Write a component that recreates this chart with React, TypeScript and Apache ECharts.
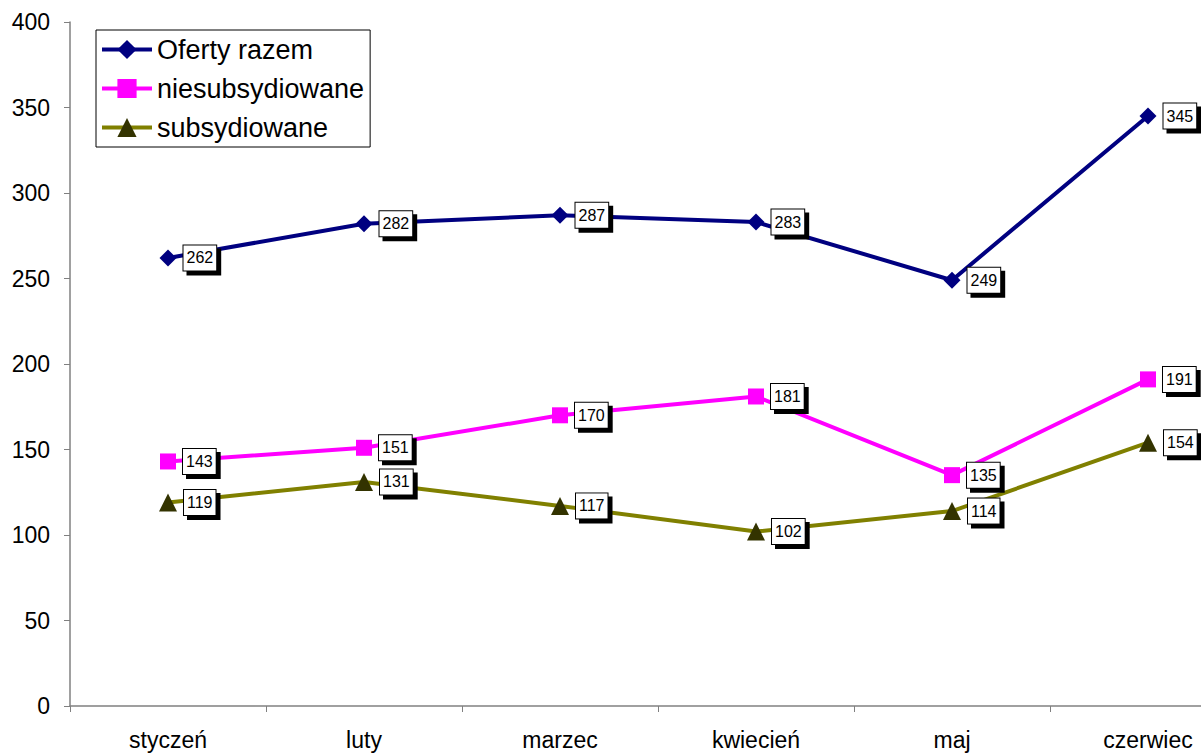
import React, { useEffect, useRef } from "react";
import * as echarts from "echarts";

const categories = ["styczeń", "luty", "marzec", "kwiecień", "maj", "czerwiec"];
const ofertyRazem = [262, 282, 287, 283, 249, 345];
const niesubsydiowane = [143, 151, 170, 181, 135, 191];
const subsydiowane = [119, 131, 117, 102, 114, 154];
const yTicks = { min: 0, max: 400, interval: 50 };

const labelStyle = {
  show: true,
  position: "right" as const,
  distance: 7,
  color: "#000",
  fontFamily: "Arial, Liberation Sans, sans-serif",
  fontSize: 16,
  backgroundColor: "#fff",
  borderColor: "#000",
  borderWidth: 1,
  padding: [5, 3, 4, 3],
  shadowColor: "#000",
  shadowOffsetX: 4,
  shadowOffsetY: 4,
  shadowBlur: 0,
};

export default function App() {
  const ref = useRef<HTMLDivElement>(null);
  useEffect(() => {
    const chart = echarts.init(ref.current!, undefined, { renderer: "svg" });
    const font = "Arial, Liberation Sans, sans-serif";
    chart.setOption({
      animation: false,
      backgroundColor: "#fff",
      textStyle: { fontFamily: font },
      grid: { left: 70, right: 0, top: 22, bottom: 47 },
      legend: {
        left: 96,
        top: 30,
        orient: "vertical",
        backgroundColor: "#fff",
        borderColor: "#000",
        borderWidth: 1,
        padding: [6, 6, 6, 4],
        itemGap: 12,
        itemWidth: 50,
        itemHeight: 24,
        lineStyle: { width: 4 },
        textStyle: { fontSize: 27, color: "#000", fontFamily: font },
        data: ["Oferty razem", "niesubsydiowane", "subsydiowane"],
      },
      xAxis: {
        type: "category",
        data: categories,
        boundaryGap: true,
        axisLine: { lineStyle: { color: "#808080", width: 1.5 } },
        axisTick: { show: true, length: 6, lineStyle: { color: "#808080" } },
        axisLabel: { fontSize: 23, color: "#000", margin: 22, fontFamily: font },
      },
      yAxis: {
        type: "value",
        min: yTicks.min,
        max: yTicks.max,
        interval: yTicks.interval,
        splitLine: { show: false },
        axisLine: { show: true, lineStyle: { color: "#808080", width: 1.5 } },
        axisTick: { show: true, length: 6, lineStyle: { color: "#808080" } },
        axisLabel: { fontSize: 23, color: "#000", margin: 20, fontFamily: font },
      },
      series: [
        {
          name: "Oferty razem",
          type: "line",
          data: ofertyRazem,
          symbol: "diamond",
          symbolSize: 17,
          lineStyle: { color: "#000080", width: 4 },
          itemStyle: { color: "#000080" },
          label: labelStyle,
        },
        {
          name: "niesubsydiowane",
          type: "line",
          data: niesubsydiowane,
          symbol: "rect",
          symbolSize: 16,
          lineStyle: { color: "#FF00FF", width: 4 },
          itemStyle: { color: "#FF00FF" },
          label: labelStyle,
        },
        {
          name: "subsydiowane",
          type: "line",
          data: subsydiowane,
          symbol: "triangle",
          symbolSize: 18,
          lineStyle: { color: "#808000", width: 4 },
          itemStyle: { color: "#333300" },
          label: labelStyle,
        },
      ],
    });
    return () => chart.dispose();
  }, []);
  return (
    <div
      ref={ref}
      style={{ position: "fixed", left: 0, top: 0, width: 1246, height: 753 }}
    />
  );
}
